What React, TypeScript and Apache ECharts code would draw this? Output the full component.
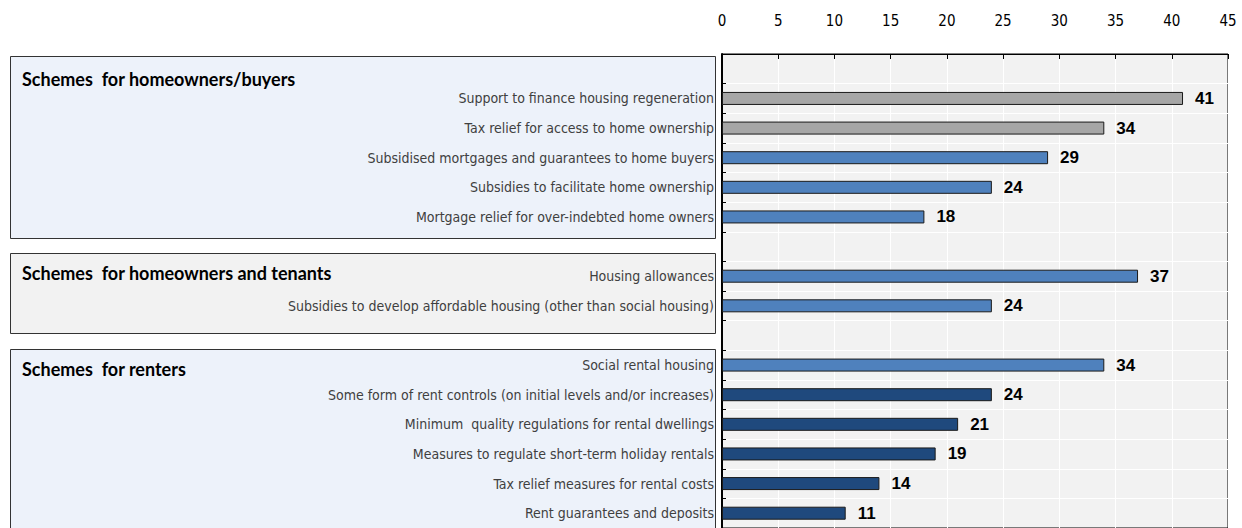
import React, { useEffect, useRef } from "react";
import * as echarts from "echarts";

const categories: string[] = [
  "",
  "Support to finance housing regeneration",
  "Tax relief for access to home ownership",
  "Subsidised mortgages and guarantees to home buyers",
  "Subsidies to facilitate home ownership",
  "Mortgage relief for over-indebted home owners",
  " ",
  "Housing allowances",
  "Subsidies to develop affordable housing (other than social housing)",
  "  ",
  "Social rental housing",
  "Some form of rent controls (on initial levels and/or increases)",
  "Minimum  quality regulations for rental dwellings",
  "Measures to regulate short-term holiday rentals",
  "Tax relief measures for rental costs",
  "Rent guarantees and deposits",
];

const values: (number | null)[] = [null, 41, 34, 29, 24, 18, null, 37, 24, null, 34, 24, 21, 19, 14, 11];

// colour group per category: g = grey, b = blue, d = dark blue
const colourGroups: string[] = ["", "g", "g", "b", "b", "b", "", "b", "b", "", "b", "d", "d", "d", "d", "d"];

const xTicks = { min: 0, max: 45, interval: 5 };

const groupTitles: string[] = [
  "Schemes  for homeowners/buyers",
  "Schemes  for homeowners and tenants",
  "Schemes  for renters",
];

const palette: Record<string, string> = { g: "#a6a6a6", b: "#4f81bd", d: "#1f497d" };

export default function App() {
  const ref = useRef<HTMLDivElement>(null);
  useEffect(() => {
    if (!ref.current) return;
    const chart = echarts.init(ref.current, undefined, { renderer: "svg" });
    const narrow = "'Liberation Sans Narrow', 'Arial Narrow', 'DejaVu Sans Condensed', sans-serif";
    const boxes = [
      { y: 56, h: 182, fill: "#edf2fa" },
      { y: 253, h: 80, fill: "#f2f2f2" },
      { y: 349, h: 200, fill: "#edf2fa" },
    ];
    const titleY = [79, 273, 369];
    chart.setOption({
      animation: false,
      grid: {
        left: 722,
        top: 54,
        width: 506,
        height: 476,
        show: true,
        backgroundColor: "#f2f2f2",
        borderColor: "#000",
        borderWidth: 1,
      },
      graphic: [
        ...boxes.map((b) => ({
          type: "rect",
          shape: { x: 10.5, y: b.y + 0.5, width: 705, height: b.h },
          style: { fill: b.fill, stroke: "#333", lineWidth: 1 },
          z: -1,
        })),
        ...groupTitles.map((t, i) => ({
          type: "text",
          x: 22,
          y: titleY[i],
          style: {
            text: t,
            fill: "#000",
            font: "bold 18px Lato, 'Liberation Sans', Arial, sans-serif",
            verticalAlign: "middle",
          },
          z: 10,
        })),
      ],
      xAxis: {
        type: "value",
        position: "top",
        min: xTicks.min,
        max: xTicks.max,
        interval: xTicks.interval,
        axisLine: { show: true, lineStyle: { color: "#000" } },
        axisTick: { show: true, inside: true, length: 5, lineStyle: { color: "#000" } },
        axisLabel: { color: "#000", fontSize: 15, fontFamily: narrow, margin: 26 },
        splitLine: { show: true, lineStyle: { color: "#ffffff", width: 1 } },
      },
      yAxis: {
        type: "category",
        inverse: true,
        data: categories,
        axisLine: { show: true, lineStyle: { color: "#000", width: 2 } },
        axisTick: { show: true, inside: true, length: 4, lineStyle: { color: "#000" } },
        axisLabel: { color: "#404040", fontSize: 14, fontFamily: narrow, margin: 8 },
        splitLine: { show: true, lineStyle: { color: "#ffffff", width: 1 } },
      },
      series: [
        {
          type: "bar",
          barWidth: 13,
          data: values.map((v, i) => ({
            value: v,
            itemStyle: {
              color: palette[colourGroups[i]] || "#4f81bd",
              borderColor: "#1a1a1a",
              borderWidth: 1,
            },
          })),
          label: {
            show: true,
            position: "right",
            distance: 12,
            color: "#000",
            fontSize: 17,
            fontWeight: "bold",
            fontFamily: "'Liberation Sans', Arial, sans-serif",
          },
        },
      ],
    });
    return () => chart.dispose();
  }, []);
  return (
    <div
      ref={ref}
      style={{ position: "absolute", left: 0, top: 0, width: 1242, height: 528 }}
    />
  );
}
